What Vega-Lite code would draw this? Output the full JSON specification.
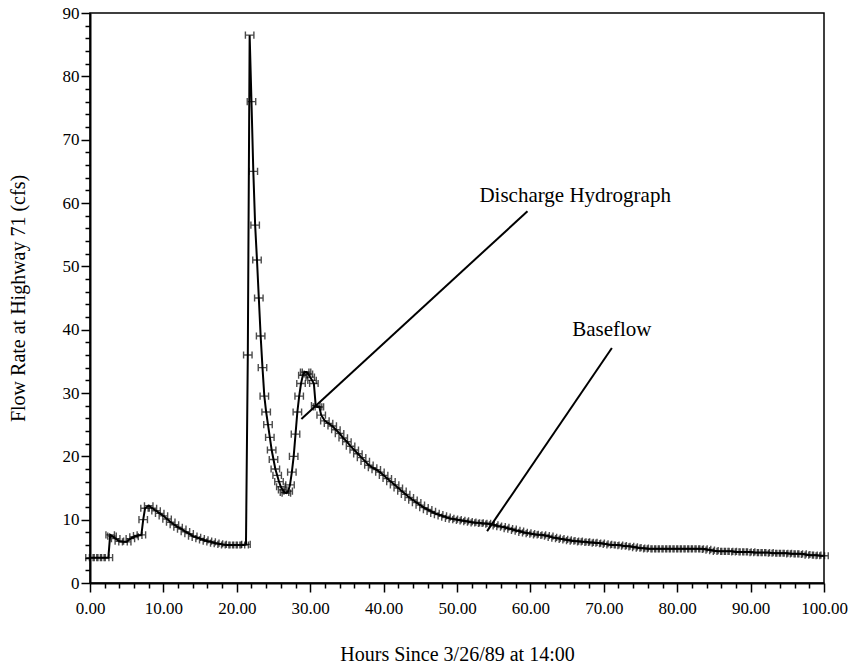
{
  "$schema": "https://vega.github.io/schema/vega-lite/v6.json",
  "width": 734,
  "height": 570,
  "autosize": "none",
  "padding": {"left": 90, "top": 13, "right": 27, "bottom": 85},
  "background": "white",
  "config": {
    "view": {"stroke": "black", "strokeWidth": 1.5},
    "font": "Liberation Serif",
    "axis": {
      "domainColor": "black", "domainWidth": 2, "tickColor": "black", "tickWidth": 1.5,
      "labelFont": "Liberation Serif", "labelFontSize": 17, "labelColor": "black",
      "titleFont": "Liberation Serif", "titleFontSize": 20, "titleFontWeight": "normal", "titleColor": "black",
      "grid": false
    }
  },
  "datasets": {
    "flow": [
      {"h":0.0,"q":4.0},{"h":0.5,"q":4.0},{"h":1.0,"q":4.0},{"h":1.5,"q":4.0},{"h":2.0,"q":4.0},{"h":2.5,"q":4.0},
      {"h":2.75,"q":7.6},{"h":3.0,"q":7.4},{"h":3.5,"q":7.0},{"h":4.0,"q":6.6},{"h":4.5,"q":6.5},{"h":5.0,"q":6.5},
      {"h":5.5,"q":7.0},{"h":6.0,"q":7.3},{"h":6.5,"q":7.5},{"h":7.0,"q":7.6},{"h":7.25,"q":10.0},{"h":7.5,"q":11.8},
      {"h":8.0,"q":12.2},{"h":8.5,"q":11.8},{"h":9.0,"q":11.4},{"h":9.5,"q":11.0},{"h":10.0,"q":10.6},{"h":10.5,"q":10.1},
      {"h":11.0,"q":9.6},{"h":11.5,"q":9.2},{"h":12.0,"q":8.8},{"h":12.5,"q":8.5},{"h":13.0,"q":8.1},{"h":13.5,"q":7.8},
      {"h":14.0,"q":7.4},{"h":14.5,"q":7.2},{"h":15.0,"q":7.0},{"h":15.5,"q":6.8},{"h":16.0,"q":6.6},{"h":16.5,"q":6.5},
      {"h":17.0,"q":6.3},{"h":17.5,"q":6.2},{"h":18.0,"q":6.1},{"h":18.5,"q":6.0},{"h":19.0,"q":6.0},{"h":19.5,"q":6.0},
      {"h":20.0,"q":6.0},{"h":20.5,"q":6.0},{"h":21.0,"q":6.0},{"h":21.25,"q":6.1},{"h":21.5,"q":36.0},{"h":21.75,"q":86.5},
      {"h":22.0,"q":76.0},{"h":22.25,"q":65.0},{"h":22.5,"q":56.5},{"h":22.75,"q":51.0},{"h":23.0,"q":45.0},{"h":23.25,"q":39.0},
      {"h":23.5,"q":34.0},{"h":23.75,"q":29.5},{"h":24.0,"q":27.0},{"h":24.25,"q":25.0},{"h":24.5,"q":23.0},{"h":24.75,"q":21.0},
      {"h":25.0,"q":19.5},{"h":25.25,"q":18.0},{"h":25.5,"q":17.0},{"h":25.75,"q":16.0},{"h":26.0,"q":15.2},{"h":26.25,"q":14.7},
      {"h":26.5,"q":14.3},{"h":26.75,"q":14.2},{"h":27.0,"q":14.5},{"h":27.25,"q":15.5},{"h":27.5,"q":17.5},{"h":27.75,"q":20.0},
      {"h":28.0,"q":23.5},{"h":28.25,"q":27.0},{"h":28.5,"q":29.5},{"h":28.75,"q":31.5},{"h":29.0,"q":32.8},{"h":29.25,"q":33.3},
      {"h":29.5,"q":33.3},{"h":29.75,"q":33.0},{"h":30.0,"q":32.5},{"h":30.25,"q":32.0},{"h":30.5,"q":31.5},{"h":30.75,"q":28.0},
      {"h":31.0,"q":27.8},{"h":31.25,"q":27.8},{"h":31.5,"q":26.5},{"h":32.0,"q":25.6},{"h":32.5,"q":25.2},{"h":33.0,"q":24.8},
      {"h":33.5,"q":24.2},{"h":34.0,"q":23.6},{"h":34.5,"q":22.9},{"h":35.0,"q":22.3},{"h":35.5,"q":21.6},{"h":36.0,"q":21.0},
      {"h":36.5,"q":20.4},{"h":37.0,"q":19.8},{"h":37.5,"q":19.2},{"h":38.0,"q":18.6},{"h":38.5,"q":18.2},{"h":39.0,"q":17.9},
      {"h":39.5,"q":17.5},{"h":40.0,"q":17.0},{"h":40.5,"q":16.5},{"h":41.0,"q":16.0},{"h":41.5,"q":15.5},{"h":42.0,"q":15.0},
      {"h":42.5,"q":14.5},{"h":43.0,"q":14.0},{"h":43.5,"q":13.5},{"h":44.0,"q":13.1},{"h":44.5,"q":12.7},{"h":45.0,"q":12.3},
      {"h":45.5,"q":11.9},{"h":46.0,"q":11.6},{"h":46.5,"q":11.3},{"h":47.0,"q":11.0},{"h":47.5,"q":10.8},{"h":48.0,"q":10.6},
      {"h":48.5,"q":10.4},{"h":49.0,"q":10.2},{"h":49.5,"q":10.1},{"h":50.0,"q":10.0},{"h":50.5,"q":9.9},{"h":51.0,"q":9.8},
      {"h":51.5,"q":9.7},{"h":52.0,"q":9.6},{"h":52.5,"q":9.5},{"h":53.0,"q":9.5},{"h":53.5,"q":9.4},{"h":54.0,"q":9.4},
      {"h":54.5,"q":9.3},{"h":55.0,"q":9.2},{"h":55.5,"q":9.0},{"h":56.0,"q":8.9},{"h":56.5,"q":8.8},{"h":57.0,"q":8.6},
      {"h":57.5,"q":8.5},{"h":58.0,"q":8.3},{"h":58.5,"q":8.2},{"h":59.0,"q":8.0},{"h":59.5,"q":7.9},{"h":60.0,"q":7.8},
      {"h":60.5,"q":7.7},{"h":61.0,"q":7.6},{"h":61.5,"q":7.6},{"h":62.0,"q":7.5},{"h":62.5,"q":7.4},{"h":63.0,"q":7.2},
      {"h":63.5,"q":7.1},{"h":64.0,"q":7.0},{"h":64.5,"q":6.9},{"h":65.0,"q":6.8},{"h":65.5,"q":6.7},{"h":66.0,"q":6.6},
      {"h":66.5,"q":6.6},{"h":67.0,"q":6.5},{"h":67.5,"q":6.5},{"h":68.0,"q":6.4},{"h":68.5,"q":6.4},{"h":69.0,"q":6.3},
      {"h":69.5,"q":6.3},{"h":70.0,"q":6.2},{"h":70.5,"q":6.1},{"h":71.0,"q":6.0},{"h":71.5,"q":6.0},{"h":72.0,"q":6.0},
      {"h":72.5,"q":5.9},{"h":73.0,"q":5.8},{"h":73.5,"q":5.8},{"h":74.0,"q":5.7},{"h":74.5,"q":5.6},{"h":75.0,"q":5.5},
      {"h":75.5,"q":5.5},{"h":76.0,"q":5.4},{"h":76.5,"q":5.4},{"h":77.0,"q":5.4},{"h":77.5,"q":5.4},{"h":78.0,"q":5.4},
      {"h":78.5,"q":5.4},{"h":79.0,"q":5.4},{"h":79.5,"q":5.4},{"h":80.0,"q":5.4},{"h":80.5,"q":5.4},{"h":81.0,"q":5.4},
      {"h":81.5,"q":5.4},{"h":82.0,"q":5.4},{"h":82.5,"q":5.4},{"h":83.0,"q":5.4},{"h":83.5,"q":5.4},{"h":84.0,"q":5.3},
      {"h":84.5,"q":5.2},{"h":85.0,"q":5.1},{"h":85.5,"q":5.0},{"h":86.0,"q":5.0},{"h":86.5,"q":5.0},{"h":87.0,"q":5.0},
      {"h":87.5,"q":5.0},{"h":88.0,"q":4.9},{"h":88.5,"q":4.9},{"h":89.0,"q":4.9},{"h":89.5,"q":4.9},{"h":90.0,"q":4.9},
      {"h":90.5,"q":4.8},{"h":91.0,"q":4.8},{"h":91.5,"q":4.8},{"h":92.0,"q":4.8},{"h":92.5,"q":4.8},{"h":93.0,"q":4.7},
      {"h":93.5,"q":4.7},{"h":94.0,"q":4.7},{"h":94.5,"q":4.7},{"h":95.0,"q":4.7},{"h":95.5,"q":4.6},{"h":96.0,"q":4.6},
      {"h":96.5,"q":4.6},{"h":97.0,"q":4.6},{"h":97.5,"q":4.5},{"h":98.0,"q":4.4},{"h":98.5,"q":4.4},{"h":99.0,"q":4.4},
      {"h":99.5,"q":4.3},{"h":100.0,"q":4.3}
    ],
    "leaders": [
      {"x1":28.8,"y1":25.9,"x2":59.6,"y2":58.7},
      {"x1":54.1,"y1":8.2,"x2":71.1,"y2":37.1}
    ],
    "labels": [
      {"t":"Discharge Hydrograph","x":66.1,"y":61.1},
      {"t":"Baseflow","x":71.1,"y":39.9}
    ]
  },
  "layer": [
    {
      "data": {"name": "flow"},
      "mark": {"type": "line", "color": "black", "strokeWidth": 2},
      "encoding": {
        "x": {
          "field": "h", "type": "quantitative",
          "scale": {"domain": [0, 100], "nice": false},
          "axis": {
            "title": "Hours Since 3/26/89 at 14:00",
            "values": [0,2,4,6,8,10,12,14,16,18,20,22,24,26,28,30,32,34,36,38,40,42,44,46,48,50,52,54,56,58,60,62,64,66,68,70,72,74,76,78,80,82,84,86,88,90,92,94,96,98,100],
            "tickCount": 500,
            "labelExpr": "datum.value % 10 === 0 ? format(datum.value, '.2f') : ''",
            "tickSize": {"condition": {"test": "datum.value % 10 === 0", "value": 9}, "value": 5},
            "labelPadding": 8,
            "labelFlush": false,
            "labelOverlap": false,
            "titlePadding": 28
          }
        },
        "y": {
          "field": "q", "type": "quantitative",
          "scale": {"domain": [0, 90], "nice": false},
          "axis": {
            "title": "Flow Rate at Highway 71 (cfs)",
            "values": [0,2,4,6,8,10,12,14,16,18,20,22,24,26,28,30,32,34,36,38,40,42,44,46,48,50,52,54,56,58,60,62,64,66,68,70,72,74,76,78,80,82,84,86,88,90],
            "tickCount": 500,
            "labelExpr": "datum.value % 10 === 0 ? format(datum.value, 'd') : ''",
            "tickSize": {"condition": {"test": "datum.value % 10 === 0", "value": 9}, "value": 5},
            "labelPadding": 2,
            "labelFlush": false,
            "labelOverlap": false,
            "titlePadding": 34
          }
        }
      }
    },
    {
      "data": {"name": "flow"},
      "mark": {"type": "point", "shape": "M-1,-0.85L-1,0.85M-1,0L1,0M1,-0.85L1,0.85", "filled": false, "stroke": "black", "strokeWidth": 1.4, "size": 72},
      "encoding": {
        "x": {"field": "h", "type": "quantitative"},
        "y": {"field": "q", "type": "quantitative"}
      }
    },
    {
      "data": {"name": "leaders"},
      "mark": {"type": "rule", "color": "black", "strokeWidth": 2},
      "encoding": {
        "x": {"field": "x1", "type": "quantitative"},
        "y": {"field": "y1", "type": "quantitative"},
        "x2": {"field": "x2"},
        "y2": {"field": "y2"}
      }
    },
    {
      "data": {"name": "labels"},
      "mark": {"type": "text", "font": "Liberation Serif", "fontSize": 21, "color": "black", "align": "center", "baseline": "middle"},
      "encoding": {
        "x": {"field": "x", "type": "quantitative"},
        "y": {"field": "y", "type": "quantitative"},
        "text": {"field": "t"}
      }
    }
  ]
}
